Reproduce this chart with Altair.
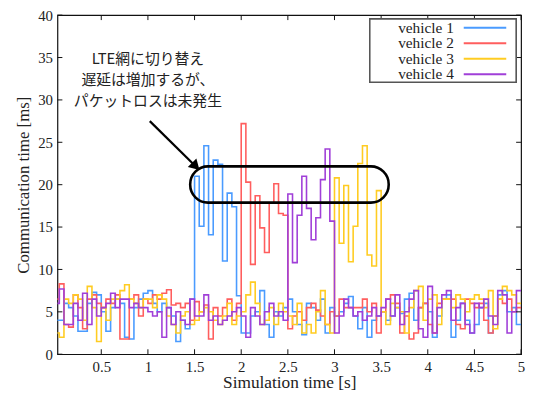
import altair as alt
import pandas as pd

# ---------------- data ----------------
series_names = ["vehicle 1", "vehicle 2", "vehicle 3", "vehicle 4"]
series_colors = ["#4a9bff", "#ff5e5e", "#ffcc22", "#a03fd8"]
step = 0.05

v1 = [4.0, 4.0, 6.0, 5.5, 4.5, 2.7, 2.7, 6.0, 7.3, 7.0,
      5.0, 2.7, 5.5, 6.5, 6.0, 2.0, 1.8, 5.5, 6.5, 7.2,
      7.5, 6.0, 5.0, 6.0, 5.5, 4.5, 1.5, 4.0, 3.0, 6.5,
      21.0, 15.1, 24.6, 14.1, 22.9, 22.4, 11.0, 19.0, 17.4, 6.9,
      2.5, 2.5, 4.5, 5.0, 7.5, 3.5, 2.0, 5.0, 4.5, 5.5,
      6.5, 5.0, 3.5, 2.3, 6.0, 5.5, 4.0, 6.5, 2.5, 5.5,
      4.5, 5.0, 6.0, 6.8, 4.5, 3.0, 5.5, 2.0, 4.0, 4.5,
      5.0, 4.0, 4.5, 5.5, 4.8, 6.5, 7.2, 4.0, 5.5, 6.0,
      5.0, 2.0, 4.5, 6.5, 7.0, 2.0, 4.0, 6.0, 4.0, 2.5,
      3.5, 5.5, 6.0, 2.5, 4.5, 7.0, 7.5, 5.0, 5.5, 3.5]

v2 = [6.5, 8.3, 3.5, 3.2, 7.0, 5.5, 3.0, 6.5, 7.0, 6.0,
      5.5, 6.5, 6.0, 7.0, 1.8, 1.8, 6.5, 7.0, 4.5, 6.5,
      6.0, 7.0, 6.5, 7.2, 7.6, 5.8, 6.0, 5.5, 6.0, 4.0,
      6.2, 5.0, 5.8, 1.8, 5.5, 4.5, 5.5, 6.5, 4.0, 6.0,
      27.2, 20.3, 10.6, 18.7, 14.9, 12.0, 17.8, 20.1, 16.6, 16.4,
      3.0, 4.5, 5.0, 4.0, 5.5, 6.0, 5.2, 4.5, 3.5, 5.0,
      4.5, 6.5, 5.5, 5.5, 5.5, 5.5, 6.5, 5.0, 6.0, 2.5,
      5.0, 6.5, 7.0, 6.0, 2.5, 4.5, 1.8, 2.5, 5.5, 6.0,
      3.5, 2.5, 6.0, 6.5, 6.5, 6.5, 3.5, 3.0, 6.5, 6.0,
      5.5, 6.0, 4.0, 2.5, 4.5, 6.5, 6.0, 6.5, 5.0, 5.5]

v3 = [2.5, 2.0, 6.5, 6.0, 7.0, 6.5, 4.0, 8.0, 5.5, 1.5,
      5.5, 4.0, 6.5, 6.5, 7.5, 8.2, 6.5, 6.0, 5.5, 6.5,
      6.5, 5.5, 7.0, 6.5, 4.5, 3.5, 2.5, 4.5, 5.0, 3.5,
      4.0, 5.0, 5.5, 5.0, 4.0, 3.5, 4.5, 6.0, 3.5, 4.5,
      5.0, 7.0, 8.5, 6.0, 3.5, 4.0, 5.5, 3.5, 6.0, 5.0,
      4.5, 3.5, 6.0, 2.5, 3.5, 2.5, 5.0, 7.5, 3.5, 2.5,
      20.8, 13.1, 19.9, 10.9, 15.1, 22.5, 24.6, 11.7, 10.4, 19.3,
      5.0, 3.5, 6.0, 5.5, 5.0, 2.5, 5.5, 7.5, 8.0, 4.0,
      6.5, 7.0, 3.5, 6.5, 6.5, 5.5, 7.0, 6.5, 5.0, 6.5,
      7.0, 6.5, 5.5, 7.5, 3.0, 6.5, 8.0, 7.5, 7.0, 6.0]

v4 = [6.0, 7.7, 3.5, 3.5, 6.0, 4.0, 7.2, 3.5, 6.5, 4.5,
      5.5, 6.0, 7.2, 5.5, 6.5, 6.5, 5.5, 6.0, 5.5, 5.5,
      5.0, 4.5, 5.0, 2.0, 5.5, 3.5, 5.0, 4.0, 3.5, 6.5,
      4.5, 4.5, 7.0, 4.0, 4.5, 3.5, 4.0, 4.5, 5.0, 5.5,
      4.5, 2.0, 5.5, 4.5, 3.5, 5.0, 6.0, 4.5, 5.0, 4.0,
      18.9, 10.8, 16.4, 21.0, 17.2, 13.5, 16.1, 20.6, 24.2, 15.7,
      2.5, 4.5, 6.5, 5.5, 4.5, 5.0, 4.0, 4.5, 5.5, 4.5,
      5.5, 6.5, 4.5, 7.0, 3.5, 5.0, 6.5, 7.5, 3.0, 2.0,
      8.0, 2.5, 5.5, 7.0, 7.5, 4.0, 5.5, 6.0, 3.5, 2.5,
      6.0, 5.5, 6.5, 4.5, 3.5, 7.5, 7.0, 2.5, 5.0, 7.5]

x_ticks = [0.5, 1, 1.5, 2, 2.5, 3, 3.5, 4, 4.5, 5]
y_ticks = [0, 5, 10, 15, 20, 25, 30, 35, 40]

annot_lines = ["LTE網に切り替え", "遅延は増加するが、", "パケットロスは未発生"]
annot_t = [1.0, 1.0, 1.0]
annot_v = [34.8, 32.3, 29.9]

box_t = [1.453, 3.581]
box_v = [17.88, 22.16]
arrow_t = [1.02, 1.50]
arrow_v = [27.5, 22.3]

# ---------------- tables ----------------
rows = []
for name, vals in zip(series_names, [v1, v2, v3, v4]):
    for i, v in enumerate(vals):
        rows.append({"t": round(i * step, 3), "v": v, "series": name})
    rows.append({"t": round(len(vals) * step, 3), "v": vals[-1], "series": name})
df = pd.DataFrame(rows)

W, H = 469, 343
xs = alt.Scale(domain=[0.03, 5.0], nice=False, zero=False)
ys = alt.Scale(domain=[0, 40], nice=False)
serif = "Liberation Serif, Times New Roman, serif"

lines = alt.Chart(df).mark_line(interpolate="step-after", strokeWidth=1.6, clip=True).encode(
    x=alt.X("t:Q", scale=xs,
            axis=alt.Axis(values=x_ticks, format="~g", title="Simulation time [s]", ticks=False,
                          domain=False, grid=False, labelPadding=5, titlePadding=0,
                          labelFontSize=15, titleFontSize=17.5, labelFont=serif, titleFont=serif,
                          titleFontWeight="normal", labelColor="#222", titleColor="#222",
                          labelFlush=False)),
    y=alt.Y("v:Q", scale=ys,
            axis=alt.Axis(values=y_ticks, title="Communication time [ms]", ticks=False,
                          domain=False, grid=False, labelPadding=5, titlePadding=5,
                          labelFontSize=15, titleFontSize=17, labelFont=serif,
                          titleFont=serif, titleFontWeight="normal", labelColor="#222",
                          titleColor="#222")),
    color=alt.Color("series:N", scale=alt.Scale(domain=series_names, range=series_colors),
                    legend=None),
    detail="series:N",
)

xt = pd.DataFrame({"t": x_ticks})
yt = pd.DataFrame({"v": y_ticks})
tick_bottom = alt.Chart(xt).mark_rule(color="#111", strokeWidth=1).encode(
    x=alt.X("t:Q", scale=xs), y=alt.value(H), y2=alt.value(H - 5))
tick_top = alt.Chart(xt).mark_rule(color="#111", strokeWidth=1).encode(
    x=alt.X("t:Q", scale=xs), y=alt.value(0), y2=alt.value(5))
tick_left = alt.Chart(yt).mark_rule(color="#111", strokeWidth=1).encode(
    y=alt.Y("v:Q", scale=ys), x=alt.value(0), x2=alt.value(5))
tick_right = alt.Chart(yt).mark_rule(color="#111", strokeWidth=1).encode(
    y=alt.Y("v:Q", scale=ys), x=alt.value(W), x2=alt.value(W - 5))

box_df = pd.DataFrame({"t1": [box_t[0]], "t2": [box_t[1]], "v1": [box_v[0]], "v2": [box_v[1]]})
box = alt.Chart(box_df).mark_rect(fillOpacity=0, stroke="black", strokeWidth=2.6,
                                  cornerRadius=18).encode(
    x=alt.X("t1:Q", scale=xs), x2="t2:Q", y=alt.Y("v1:Q", scale=ys), y2="v2:Q")

arrow_df = pd.DataFrame({"t": arrow_t, "v": arrow_v})
arrow_line = alt.Chart(arrow_df).mark_line(color="black", strokeWidth=2.2).encode(
    x=alt.X("t:Q", scale=xs), y=alt.Y("v:Q", scale=ys))
head_df = pd.DataFrame({"t": [arrow_t[1]], "v": [arrow_v[1]]})
arrow_head = alt.Chart(head_df).mark_point(shape="triangle", filled=True, color="black",
                                           size=150, angle=135, opacity=1).encode(
    x=alt.X("t:Q", scale=xs), y=alt.Y("v:Q", scale=ys))

annot_df = pd.DataFrame({"t": annot_t, "v": annot_v, "txt": annot_lines})
annot = alt.Chart(annot_df).mark_text(font="Noto Sans CJK JP", fontSize=15, color="#222",
                                      align="center", baseline="middle").encode(
    x=alt.X("t:Q", scale=xs), y=alt.Y("v:Q", scale=ys), text="txt:N")

# legend (manual, label left of sample line, gnuplot-style)
leg_df = pd.DataFrame({"series": series_names, "k": [0, 1, 2, 3]})
leg_y = alt.Scale(domain=[0, 3], range=[12.7, 59.7])
leg_frame = alt.Chart(leg_df).mark_rect(fill="white", stroke="#555", strokeWidth=1.5).encode(
    x=alt.value(316), x2=alt.value(464), y=alt.value(4), y2=alt.value(68))
leg_text = alt.Chart(leg_df).mark_text(font=serif, fontSize=15.5, align="right",
                                       baseline="middle", color="#222").encode(
    x=alt.value(401), y=alt.Y("k:Q", scale=leg_y, axis=None), text="series:N")
leg_line = alt.Chart(leg_df).mark_rule(strokeWidth=2).encode(
    x=alt.value(411), x2=alt.value(454), y=alt.Y("k:Q", scale=leg_y, axis=None),
    color=alt.Color("series:N", scale=alt.Scale(domain=series_names, range=series_colors),
                    legend=None))
legend = alt.layer(leg_frame, leg_text, leg_line)

main = alt.layer(lines, box, arrow_line, arrow_head, annot,
                 tick_bottom, tick_top, tick_left, tick_right)

chart = alt.layer(main, legend).resolve_scale(y="independent").properties(
    width=W, height=H,
    autosize=alt.AutoSizeParams(type="none"),
    padding={"left": 50, "top": 5, "right": 6, "bottom": 36},
    background="white",
).configure_view(stroke="#111", strokeWidth=1.2)

chart.save("out.html", embed_options={"renderer": "svg", "actions": False})
